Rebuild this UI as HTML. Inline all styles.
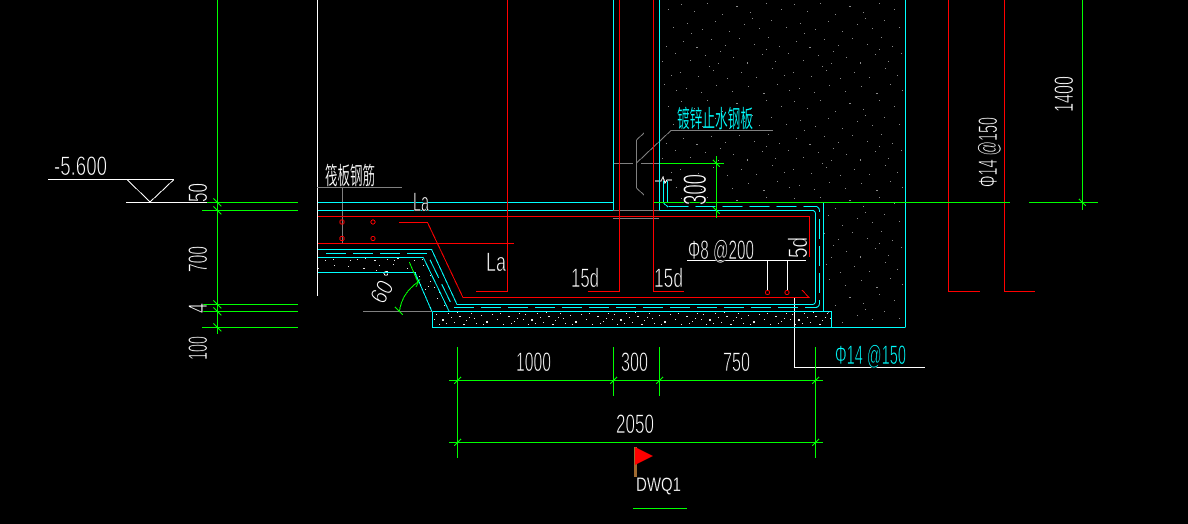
<!DOCTYPE html>
<html lang="zh">
<head>
<meta charset="utf-8">
<title>DWQ1</title>
<style>
html,body{margin:0;padding:0;background:#000;width:1188px;height:524px;overflow:hidden}
svg{display:block}
text{font-family:"Liberation Sans","Noto Sans CJK SC",sans-serif;font-size:27px;fill:#fff;stroke:#000;stroke-width:.75}
.l{fill:none;stroke-width:1;shape-rendering:crispEdges}
.a{fill:none;stroke-width:1;shape-rendering:crispEdges}
.g{stroke:#00ff00}.c{stroke:#00ffff}.r{stroke:#ff0000}.w{stroke:#fff}.y{stroke:#808080}
text.ct{fill:#00ffff}
text.cj{stroke-width:.25}
</style>
</head>
<body>
<svg width="1188" height="524" viewBox="0 0 1188 524" xmlns="http://www.w3.org/2000/svg">
<defs>
<pattern id="wall" width="113" height="97" patternUnits="userSpaceOnUse">
<path fill="#8a8a8a" d="M3 4h1v1h-1zM16 11h1v1h-1zM29 3h1v1h-1zM44 14h1v1h-1zM58 6h2v1h-2zM72 12h1v1h-1zM88 3h1v1h-1zM103 9h1v1h-1zM9 23h1v1h-1zM24 29h1v1h-1zM37 21h1v1h-1zM51 31h1v1h-1zM66 24h1v1h-1zM81 28h1v1h-1zM93 20h1v1h-1zM108 27h1v1h-1zM5 41h1v1h-1zM18 47h2v1h-2zM33 39h1v1h-1zM47 45h1v1h-1zM61 38h1v1h-1zM76 44h1v1h-1zM90 37h1v1h-1zM101 46h1v1h-1zM12 60h1v1h-1zM27 55h1v1h-1zM40 63h1v1h-1zM55 57h1v1h-1zM69 62h1v2h-1zM84 54h1v1h-1zM97 61h1v1h-1zM110 53h1v1h-1zM2 72h1v1h-1zM20 76h1v1h-1zM35 70h1v1h-1zM49 78h1v1h-1zM63 72h1v1h-1zM78 77h1v1h-1zM94 68h1v1h-1zM106 75h1v1h-1zM8 88h1v1h-1zM23 92h1v1h-1zM38 85h1v1h-1zM54 91h1v1h-1zM70 86h1v1h-1zM85 93h2v1h-2zM99 84h1v1h-1zM111 90h1v1h-1zM13 33h1v1h-1zM42 51h1v1h-1zM74 18h1v1h-1zM31 66h1v1h-1zM88 49h1v1h-1z"/>
</pattern>
<pattern id="conc" width="89" height="32" patternUnits="userSpaceOnUse" patternTransform="translate(433 311)">
<path fill="#e8e8e8" d="M3 3h1v1h-1zM9 8h2v2h-2zM15 2h1v1h-1zM21 11h1v1h-1zM26 5h2v1h-2zM33 9h1v1h-1zM38 2h1v1h-1zM43 12h1v1h-1zM6 13h1v1h-1zM13 12h1v1h-1zM18 6h1v1h-1zM30 13h2v1h-2zM36 6h1v1h-1zM41 7h1v1h-1zM24 1h1v1h-1zM1 8h1v1h-1zM48 4h1v1h-1zM53 10h2v2h-2zM59 3h1v1h-1zM64 8h1v1h-1zM70 13h1v1h-1zM75 5h2v1h-2zM81 10h1v1h-1zM86 2h1v1h-1zM50 13h1v1h-1zM67 2h1v1h-1zM78 12h1v1h-1zM84 7h1v1h-1zM4 19h1v1h-1zM11 26h1v1h-1zM19 21h2v1h-2zM27 28h1v1h-1zM35 18h1v1h-1zM42 24h2v2h-2zM49 17h1v1h-1zM56 27h1v1h-1zM63 21h1v1h-1zM71 25h1v1h-1zM79 18h1v1h-1zM86 28h1v1h-1zM15 30h1v1h-1zM32 23h1v1h-1zM60 30h1v1h-1zM75 29h1v1h-1z"/>
</pattern>
<clipPath id="wallclip"><path d="M660 0H905V327H824V202H660z"/></clipPath>
</defs>

<rect width="1188" height="524" fill="#000"/>

<!-- speckle -->
<rect x="660" y="0" width="245" height="327" fill="url(#wall)" clip-path="url(#wallclip)"/>
<rect x="433" y="312" width="398" height="15" fill="url(#conc)"/>
<path d="M318 258H423L449 311H432L415 272H318z" fill="url(#conc)"/>

<!-- white -->
<path class="l w" d="M317.5 0V296M48 179.5H174M126 202.5H207M794.5 297V367.5H925M687 260.5H806M767.5 260V290M787.5 260V290"/>
<path class="a w" d="M127 179.5L150 202L174 179.5"/>
<path class="a w" d="M655 181H661L663 177L665 183L667 180H672"/>
<circle class="a w" cx="386" cy="273.5" r="1.8"/>

<!-- gray -->
<path class="l y" d="M317 187.5H402M342.5 187V243M363 311.5H432M613 210.5H660M613 218.5H659M613 163.5H633M641 163.5H660M636.5 140V188M671 130.5H773"/>
<path class="a y" d="M636.5 140L644 133M636.5 188L644 195M636.5 163L671 130.5"/>

<!-- cyan -->
<path class="l c" d="M613.5 0V210M659.5 0V210M905.5 0V327.5M318 202.5H613M318 210.5H613M432.5 311.5V327.5H905M432.5 311.5H831.5V327M823.5 202V311M667.5 181V203M663.5 181V203"/>
<path class="a c" d="M659.5 210.5H812Q815.5 210.5 815.5 214V301Q815.5 304.5 812 304.5H457L431.7 249.7H318"/>
<path class="a c" d="M318 257.5H423.3L449 311M318 272.5H415L431.7 311M663.5 203L668 207"/>
<path class="a c" stroke-dasharray="20 7" d="M326 253.5H427L453 307.5H815Q819.5 307.5 819.5 303V211Q819.5 206.5 815 206.5H668"/>

<!-- red -->
<path class="l r" d="M507.5 0V291.5H476M619.5 0V291.5H588M653.5 0V291.5H684M948.5 0V291.5H980M1004.5 0V291.5H1035M318 216.5H809.5V257M318 243.5H514"/>
<path class="a r" d="M399 222.5H427.5L463 297.5H809L802 290"/>
<g class="a r">
<circle cx="342" cy="222" r="2.2"/><circle cx="373" cy="222" r="2"/>
<circle cx="342" cy="238.5" r="2.2"/><circle cx="373" cy="238.5" r="2"/>
<circle cx="767.5" cy="292.5" r="2"/><circle cx="787" cy="292.5" r="2"/>
</g>

<!-- green -->
<path class="l g" d="M217.5 0V334M207 202.5H298M202 210.5H298M202 304.5H298M202 311.5H298M202 327.5H298M654 202.5H1010M1029 202.5H1098M1082.5 0V210M716.5 156V218M660 163.5H724M449 380.5H823M449 442.5H823M457.5 347V458M613.5 347V396M659.5 347V396M815.5 347V458M633 508.5H687"/>
<path class="a g" d="M213.5 198.5L221.5 206.5M213.5 206.5L221.5 214.5M213.5 300.5L221.5 308.5M213.5 307.5L221.5 315.5M213.5 323.5L221.5 331.5M1079 199L1086 206M713 160L720 167M713 207L720 214M454 384L461 377M610 384L617 377M656 384L663 377M812 384L819 377M454 446L461 439M812 446L819 439"/>
<path class="a g" d="M399.5 311Q402 293 418 282M409.3 262L418.3 283M395 307L403 315M416 287L420 279"/>

<!-- flag -->
<rect x="634" y="447" width="3" height="30" fill="#a06a30"/>
<path d="M635 447L653 456L635 465z" fill="#ff0000"/>

<!-- text -->
<text x="54" y="175" textLength="53" lengthAdjust="spacingAndGlyphs">-5.600</text>
<text transform="translate(207 202) rotate(-90)" textLength="19" lengthAdjust="spacingAndGlyphs">50</text>
<text transform="translate(207 272) rotate(-90)" textLength="26" lengthAdjust="spacingAndGlyphs">700</text>
<text transform="translate(207 313) rotate(-90)" textLength="10" lengthAdjust="spacingAndGlyphs">4</text>
<text transform="translate(207 360) rotate(-90)" textLength="24" lengthAdjust="spacingAndGlyphs">100</text>
<text class="cj" x="325" y="184" textLength="50" lengthAdjust="spacingAndGlyphs" style="font-size:24px">筏板钢筋</text>
<text x="413" y="211" textLength="16" lengthAdjust="spacingAndGlyphs">La</text>
<text x="486" y="271" textLength="20" lengthAdjust="spacingAndGlyphs">La</text>
<text x="571" y="287" textLength="28" lengthAdjust="spacingAndGlyphs">15d</text>
<text x="654" y="287" textLength="29" lengthAdjust="spacingAndGlyphs">15d</text>
<text x="688" y="259" textLength="66" lengthAdjust="spacingAndGlyphs">Φ8 @200</text>
<text transform="translate(807 258) rotate(-90)" textLength="21" lengthAdjust="spacingAndGlyphs">5d</text>
<text transform="translate(706 205) rotate(-90)" textLength="31" lengthAdjust="spacingAndGlyphs" style="font-size:32px">300</text>
<text transform="translate(1073 112) rotate(-90)" textLength="36" lengthAdjust="spacingAndGlyphs">1400</text>
<text transform="translate(997 187) rotate(-90)" textLength="70" lengthAdjust="spacingAndGlyphs">Φ14 @150</text>
<text transform="translate(381.5 291.5) rotate(-60)" x="-11" y="8.5" textLength="22" lengthAdjust="spacingAndGlyphs" style="font-size:24px">60</text>
<text x="516" y="371" textLength="35" lengthAdjust="spacingAndGlyphs">1000</text>
<text x="621" y="371" textLength="27" lengthAdjust="spacingAndGlyphs">300</text>
<text x="723" y="371" textLength="27" lengthAdjust="spacingAndGlyphs">750</text>
<text x="616" y="433" textLength="38" lengthAdjust="spacingAndGlyphs">2050</text>
<text x="636" y="491" textLength="45" lengthAdjust="spacingAndGlyphs" style="font-size:19px;stroke-width:.3">DWQ1</text>
<text class="ct" x="835" y="364" textLength="71" lengthAdjust="spacingAndGlyphs">Φ14 @150</text>
<text class="ct cj" x="677" y="127" textLength="76" lengthAdjust="spacingAndGlyphs" style="font-size:24px">镀锌止水钢板</text>
</svg>
</body>
</html>
